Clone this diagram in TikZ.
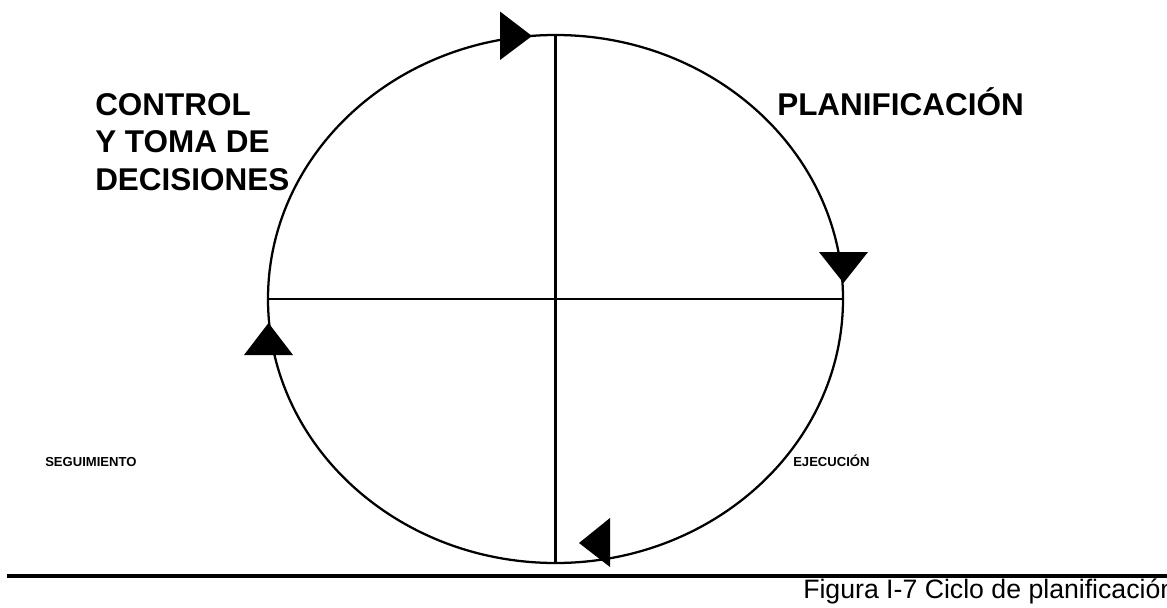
\documentclass[tikz,border=0pt]{standalone}
\usepackage{fontspec}
\setmainfont{Liberation Sans}
\usetikzlibrary{shapes.geometric}

\begin{document}
\begin{tikzpicture}[x=0.75pt,y=-0.75pt,
  ring/.style={draw, ellipse, line width=1.7pt, inner sep=0pt, outer sep=0pt,
    minimum width=431.25pt, minimum height=396pt},
  axis/.style={line width=1.7pt},
  arrowhead/.style={fill=black},
  bigtitle/.style={anchor=base west, inner sep=0pt, font=\fontsize{23.6}{28}\selectfont\bfseries},
  smalltitle/.style={anchor=base west, inner sep=0pt, font=\fontsize{9.8}{12}\selectfont\bfseries},
  caption/.style={anchor=base west, inner sep=0pt, font=\fontsize{20}{24}\selectfont},
  rule/.style={line width=3pt}]
  \useasboundingbox (0,0) rectangle (1167,607);

  % the cycle and its four quadrants
  \node[ring] (cycle) at (555.5,299) {};
  \draw[axis] (cycle.north) -- (cycle.south);
  \draw[axis] (cycle.west) -- (cycle.east);

  % direction marks, clockwise
  \fill[arrowhead] (500,11.5) -- (532,36) -- (500,60) -- cycle;
  \fill[arrowhead] (819,252) -- (868,252) -- (843.5,283) -- cycle;
  \fill[arrowhead] (610,518) -- (610,567) -- (579,543) -- cycle;
  \fill[arrowhead] (244,355) -- (293,355) -- (268.5,323) -- cycle;

  % stage labels
  \node[bigtitle] (ctl1) at (95,115) {CONTROL};
  \node[bigtitle] (ctl2) at (95,152.5) {Y TOMA DE};
  \node[bigtitle] (ctl3) at (95,190) {DECISIONES};
  \node[bigtitle] (plan) at (777,115) {PLANIFICACIÓN};
  \node[smalltitle] (seg) at (45,466) {SEGUIMIENTO};
  \node[smalltitle] (eje) at (793,466) {EJECUCIÓN};

  % footer rule and caption
  \coordinate (ruleL) at (7,576);
  \coordinate (ruleR) at (1167,576);
  \draw[rule] (ruleL) -- (ruleR);
  \node[caption] (cap) at (803,598) {Figura I-7 Ciclo de planificación};
\end{tikzpicture}
\end{document}
